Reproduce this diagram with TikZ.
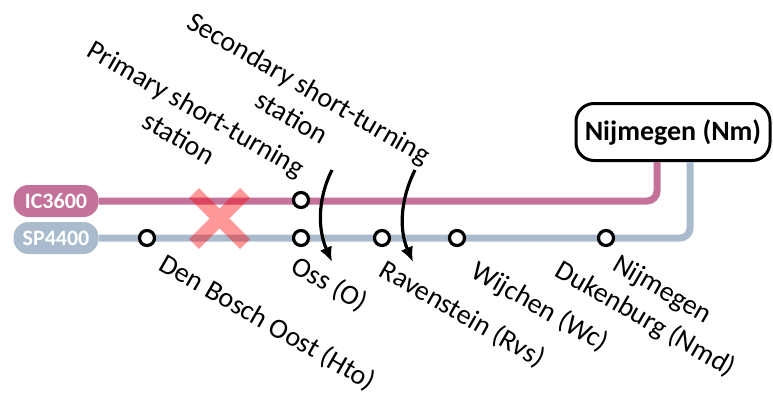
\documentclass[tikz,border=0pt]{standalone}
\usepackage{fontspec}
\setmainfont{Carlito}
\usetikzlibrary{arrows.meta,positioning,calc}
\definecolor{icpink}{RGB}{196,114,154}
\definecolor{spblue}{RGB}{169,187,204}

\begin{document}
\begin{tikzpicture}[
  x=1pt, y=-1pt,
  font=\fontsize{28}{34}\selectfont,
  pill/.style={
    rounded corners=15pt,
    minimum width=85pt,
    minimum height=32pt,
    inner sep=0pt,
    text=white,
    font=\fontsize{22}{22}\selectfont\bfseries
  },
  terminal/.style={
    draw=black,
    fill=white,
    line width=3pt,
    rounded corners=18pt,
    minimum width=194pt,
    minimum height=57pt,
    inner sep=0pt,
    font=\fontsize{28}{28}\selectfont\bfseries
  },
  track/.style={line width=7pt, rounded corners=10pt},
  station/.style={circle, draw=black, fill=white, line width=3.2pt, minimum size=15pt, inner sep=0pt},
  stationname/.style={rotate=-30, anchor=north west, inner sep=0pt, align=center},
  cancel/.style={line width=14pt, draw=red, draw opacity=0.4},
  turn/.style={-{Latex[length=15pt,width=13pt]}, line width=3.2pt, draw=black}
]
\useasboundingbox (0,0) rectangle (773,396);

% line labels and terminus
\node[pill, fill=icpink] (ic) at (56,201) {IC3600};
\node[pill, fill=spblue] (sp) at (56,238) {SP4400};
\node[terminal] (nm) at (673,132) {Nijmegen (Nm)};

\coordinate (ic turn) at (657,201);
\coordinate (sp turn) at (690,238);
\draw[track, draw=icpink] (ic.east) -- (ic turn) -- (ic turn |- nm.south);
\draw[track, draw=spblue] (sp.east) -- (sp turn) -- (sp turn |- nm.south);

% removed turning track
\draw[cancel] (194,193) -- (245,244) (245,193) -- (194,244);

% stations
\foreach \x/\id in {147/hto, 301/o, 382/rvs, 457/wc, 606/nmd}
  \node[station] (sp-\id) at (\x,238) {};
\node[station] (ic-o) at (301,200) {};

\foreach \pos/\id/\txt in {{(168,251)}/hto/Den Bosch Oost (Hto), {(300,253)}/o/Oss (O),
    {(388,257)}/rvs/Ravenstein (Rvs), {(480,258)}/wc/Wijchen (Wc)}
  \node[stationname] (name-\id) at \pos {\txt};
\node[stationname] (name-nmd) at (580,229) {Nijmegen\\Dukenburg (Nmd)};

% short-turning stations
\node[stationname] (primary) at (95,38) {Primary short-turning\\station};
\node[stationname] (secondary) at (195,10) {Secondary short-turning\\station};

\coordinate (o top) at (332,170);
\coordinate (o end) at (332,262);
\coordinate (rvs top) at (415,170);
\coordinate (rvs end) at (413,262);
\draw[turn] (o top) .. controls +(-15,30) and +(-14,-32) .. (o end);
\draw[turn] (rvs top) .. controls +(-15,30) and +(-14,-32) .. (rvs end);

\end{tikzpicture}
\end{document}
